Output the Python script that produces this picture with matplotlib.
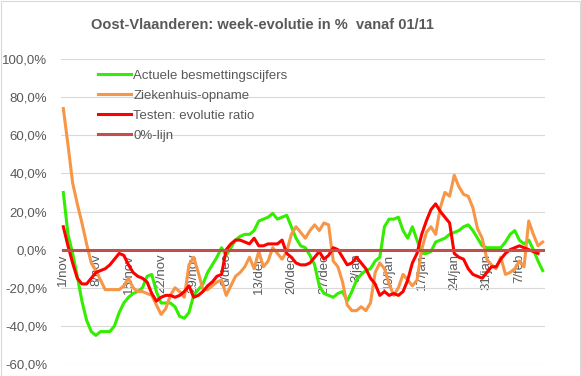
import matplotlib.pyplot as plt
import numpy as np
from matplotlib.patches import Rectangle

# daily values from 1/nov to 12/feb (in %)
besmettingen = [30, 8, -2, -14, -27, -37, -43, -45, -43, -43,
                -43, -40, -33, -28, -25, -23, -22, -20, -14, -13,
                -22, -28, -28, -28, -30, -35, -36, -33, -24, -21,
                -18, -12, -8, -4, 1, -3, 1, 5, 7, 8,
                8, 10, 15, 16, 17, 19, 16, 17, 18, 12,
                6, 2, 1, -3, -8, -19, -23, -24, -25, -23,
                -22, -27, -22, -16, -13, -11, -10, -6, -4, 12,
                16, 16, 17, 10, 6, 12, 5, -2, -2, -1,
                4, 5, 6, 8, 9, 10, 12, 13, 10, 6,
                2, 1, 1, 1, 1, 4, 8, 10, 5, 3,
                5, 0, -6, -11]
ziekenhuis = [74, 55, 35, 24, 14, 3, -7, -11, -16, -21,
              -21, -21, -21, -19, -15, -20, -22, -22, -23, -24,
              -29, -34, -31, -24, -20, -22, -25, -8, -4, -12,
              -21, -21, -19, -17, -16, -24, -19, -14, -12, -9,
              -4, -10, -1, -9, -6, 1, -2, -5, -1, 8,
              12, 9, 6, 10, 13, 10, 14, 13, -6, -9,
              -17, -29, -32, -32, -30, -32, -28, -12, -7, -10,
              -18, -24, -20, -13, -16, -19, -16, 0, 9, 12,
              8, 22, 30, 28, 39, 33, 29, 28, 22, 11,
              6, -5, -8, -10, -4, -13, -12, -10, -6, -9,
              15, 8, 2, 4]
testen = [12, 2, -7, -15, -18, -18, -15, -12, -11, -10,
          -8, -5, -2, -3, -8, -12, -14, -15, -17, -23,
          -27, -25, -24, -24, -25, -24, -22, -19, -25, -24,
          -22, -19, -17, -14, -13, 0, 3, 5, 5, 4,
          3, 6, 2, 2, 3, 3, 3, 5, -2, -4,
          -7, -8, -8, -7, -4, -1, -5, -3, 1, 0,
          -4, -8, -7, -4, -7, -10, -15, -18, -24, -22,
          -24, -23, -24, -22, -16, -7, -2, 8, 15, 21,
          24, 20, 17, 14, -2, -4, -5, -10, -13, -14,
          -15, -12, -9, -9, -5, -2, 0, 1, 2, 1,
          0, -1, -2]
tick_labels = ['1/nov', '8/nov', '15/nov', '22/nov', '29/nov', '6/dec',
               '13/dec', '20/dec', '27/dec', '3/jan', '10/jan', '17/jan',
               '24/jan', '31/jan', '7/feb']

plt.rcParams['font.family'] = ['Liberation Sans', 'DejaVu Sans']
grey = '#595959'

fig = plt.figure(figsize=(5.81, 3.76), dpi=100)
fig.add_artist(Rectangle((0.001, 0.001), 0.997, 0.996, transform=fig.transFigure,
                         fill=False, edgecolor='#D9D9D9', lw=0.8))
ax = fig.add_axes([61 / 581, 1 - 364 / 376, 484 / 581, 305 / 376])

n = len(ziekenhuis)
x = np.arange(n)
ax.plot(x, besmettingen, color='#33EE00', lw=2.2, label='Actuele besmettingscijfers', zorder=3)
ax.plot(x, ziekenhuis, color='#F79646', lw=2.2, label='Ziekenhuis-opname', zorder=3)
ax.plot(np.arange(len(testen)), testen, color='#FF0000', lw=2.2,
        label='Testen: evolutie ratio', zorder=3)
ax.plot(x, np.zeros(n), color='#C0504D', lw=2.2, label='0%-lijn', zorder=4)

ax.set_xlim(-0.5, n - 0.5)
ax.set_ylim(-60, 100)
ax.set_yticks(np.arange(-60, 101, 20))
ax.set_yticklabels([f'{v:.1f}%'.replace('.', ',') for v in np.arange(-60, 101, 20)])
ax.grid(axis='y', color='#D9D9D9', lw=0.8)
ax.set_axisbelow(True)
for s in ['top', 'right', 'left']:
    ax.spines[s].set_visible(False)
ax.spines['bottom'].set_position(('data', 0))
ax.spines['bottom'].set_color('none')

ax.set_xticks(np.arange(0, n, 7)[:len(tick_labels)])
ax.set_xticklabels(tick_labels, rotation=90)
ax.tick_params(axis='x', length=0, pad=3, labelsize=9.5, labelcolor=grey)
ax.tick_params(axis='y', length=0, pad=10, labelsize=9.5, labelcolor=grey)

fig.text(262 / 581, 1 - 25 / 376, 'Oost-Vlaanderen: week-evolutie in %  vanaf 01/11',
         ha='center', va='center', fontsize=10.5, fontweight='bold', color=grey)

leg = ax.legend(loc='upper left', bbox_to_anchor=(91 / 581, 1 - 63 / 376),
                bbox_transform=fig.transFigure, frameon=False, fontsize=9.5,
                borderpad=0, handlelength=2.5, handletextpad=0.2, labelspacing=0.58)
for t in leg.get_texts():
    t.set_color(grey)

fig.savefig('out.png', dpi=100)
